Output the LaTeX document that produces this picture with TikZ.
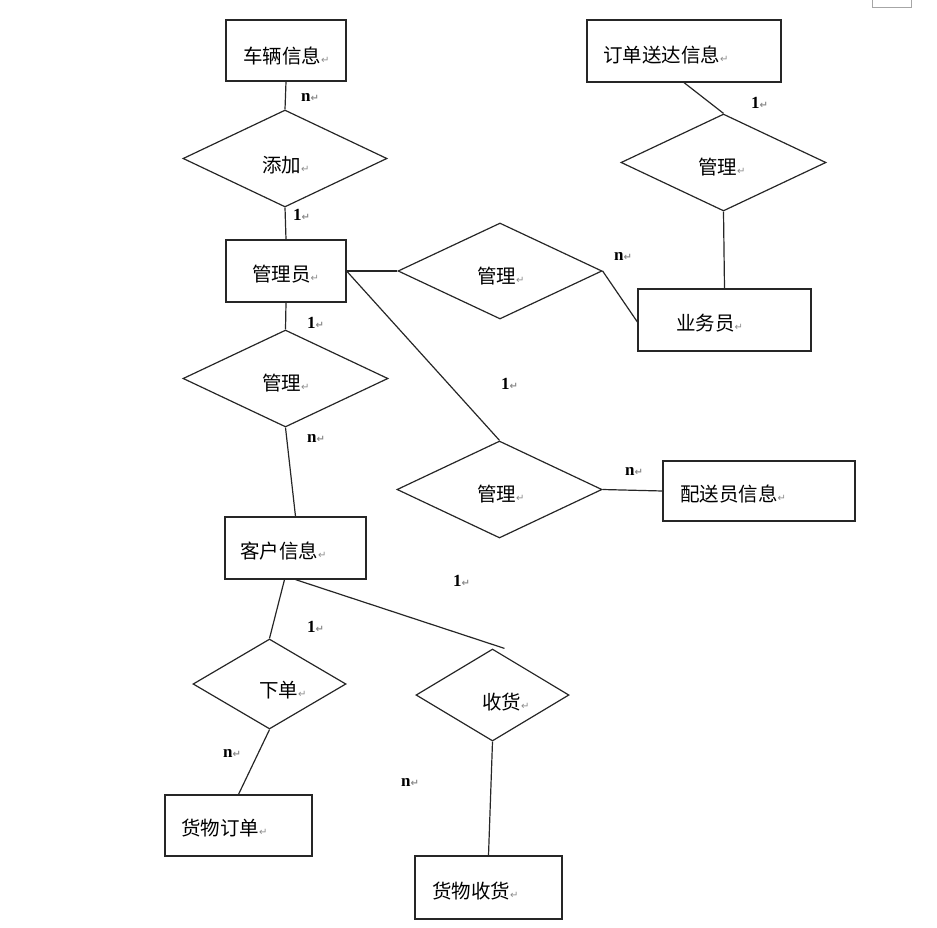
\documentclass[tikz,border=0pt]{standalone}
\usepackage{fontspec}
\usepackage{xcolor}
\usepackage{tikz}
\usetikzlibrary{positioning,shapes.geometric}
\newfontfamily\cjk{Noto Sans CJK SC}
\newfontfamily\numfont{Liberation Serif}
\newfontfamily\retfont{DejaVu Sans}
\newcommand\ret{{\retfont\fontsize{10}{10}\selectfont\textcolor{black!45}{↵}}}

\begin{document}
\begin{tikzpicture}[x=1pt,y=-1pt,
    every node/.style={inner sep=0pt},
    entity/.style={draw=black!85,line width=1.2pt,rectangle},
    relation/.style={draw=black!85,line width=1.2pt,diamond},
    word/.style={anchor=west,font=\cjk\fontsize{19.5}{19.5}\selectfont},
    card/.style={anchor=west,font=\numfont\bfseries\fontsize{17}{17}\selectfont},
    link/.style={draw=black!85,line width=1.2pt}]
    \useasboundingbox (0,0) rectangle (937,928);
    % entities
    \node[entity,minimum width=120pt,minimum height=61pt] (vehicle) at (286,50.5) {};
    \node[entity,minimum width=194pt,minimum height=62pt] (delivery) at (684,51) {};
    \node[entity,minimum width=120pt,minimum height=62pt] (admin) at (286,271) {};
    \node[entity,minimum width=173pt,minimum height=62pt] (clerk) at (724.5,320) {};
    \node[entity,minimum width=192pt,minimum height=60pt] (courier) at (759,491) {};
    \node[entity,minimum width=141pt,minimum height=62pt] (customer) at (295.5,548) {};
    \node[entity,minimum width=147pt,minimum height=61pt] (order) at (238.5,825.5) {};
    \node[entity,minimum width=147pt,minimum height=63pt] (receipt) at (488.5,887.5) {};
    % relations
    \node[relation,minimum width=204pt,minimum height=97pt] (add) at (285,158.5) {};
    \node[relation,minimum width=205pt,minimum height=97pt] (mgrtop) at (723.5,162.5) {};
    \node[relation,minimum width=204pt,minimum height=96pt] (mgrclerk) at (500,271) {};
    \node[relation,minimum width=205pt,minimum height=97pt] (mgrleft) at (285.5,378.5) {};
    \node[relation,minimum width=205pt,minimum height=97pt] (mgrcourier) at (499.5,489.5) {};
    \node[relation,minimum width=153pt,minimum height=90pt] (place) at (269.5,684) {};
    \node[relation,minimum width=153pt,minimum height=92pt] (recv) at (492.5,695) {};
    % texts
    \node[word] (vehicle-t) at (243,56) {车辆信息\ret};
    \node[word] (delivery-t) at (603,55) {订单送达信息\ret};
    \node[word] (admin-t) at (252,274) {管理员\ret};
    \node[word] (clerk-t) at (676,323) {业务员\ret};
    \node[word] (courier-t) at (680,494) {配送员信息\ret};
    \node[word] (customer-t) at (240,551) {客户信息\ret};
    \node[word] (order-t) at (181,828) {货物订单\ret};
    \node[word] (receipt-t) at (432,891) {货物收货\ret};
    \node[word] (add-t) at (262,165) {添加\ret};
    \node[word] (mgrtop-t) at (698,167) {管理\ret};
    \node[word] (mgrclerk-t) at (477,276) {管理\ret};
    \node[word] (mgrleft-t) at (262,383) {管理\ret};
    \node[word] (mgrcourier-t) at (477,494) {管理\ret};
    \node[word] (place-t) at (259,690) {下单\ret};
    \node[word] (recv-t) at (482,702) {收货\ret};
    % links
    \coordinate (recv-end) at ([xshift=12pt]recv.north);
    \draw[link] (vehicle.south) -- (add.north);
    \draw[link] (add.south) -- (admin.north);
    \draw[link] (admin.east) -- (mgrclerk.west);
    \draw[link] (mgrclerk.east) -- ([yshift=-2pt]clerk.west);
    \draw[link] (delivery.south) -- (mgrtop.north);
    \draw[link] (mgrtop.south) -- (clerk.north);
    \draw[link] (admin.east) -- (mgrcourier.north);
    \draw[link] (mgrcourier.east) -- (courier.west);
    \draw[link] (admin.south) -- (mgrleft.north);
    \draw[link] (mgrleft.south) -- (customer.north);
    \draw[link] ([xshift=-11pt]customer.south) -- (place.north);
    \draw[link] (customer.south) -- (recv-end);
    \draw[link] (place.south) -- (order.north);
    \draw[link] (recv.south) -- (receipt.north);
    % cardinalities
    \node[card] (c1) at (301,97) {n\ret};
    \node[card] (c2) at (293,215) {1\ret};
    \node[card] (c3) at (751,103) {1\ret};
    \node[card] (c4) at (614,256) {n\ret};
    \node[card] (c5) at (307,323) {1\ret};
    \node[card] (c6) at (501,384) {1\ret};
    \node[card] (c7) at (307,438) {n\ret};
    \node[card] (c8) at (625,471) {n\ret};
    \node[card] (c9) at (453,581) {1\ret};
    \node[card] (c10) at (307,627) {1\ret};
    \node[card] (c11) at (223,753) {n\ret};
    \node[card] (c12) at (401,782) {n\ret};
    % corner mark
    \draw[black!35,line width=0.8pt] (872,-3) rectangle (911,7);
\end{tikzpicture}
\end{document}
